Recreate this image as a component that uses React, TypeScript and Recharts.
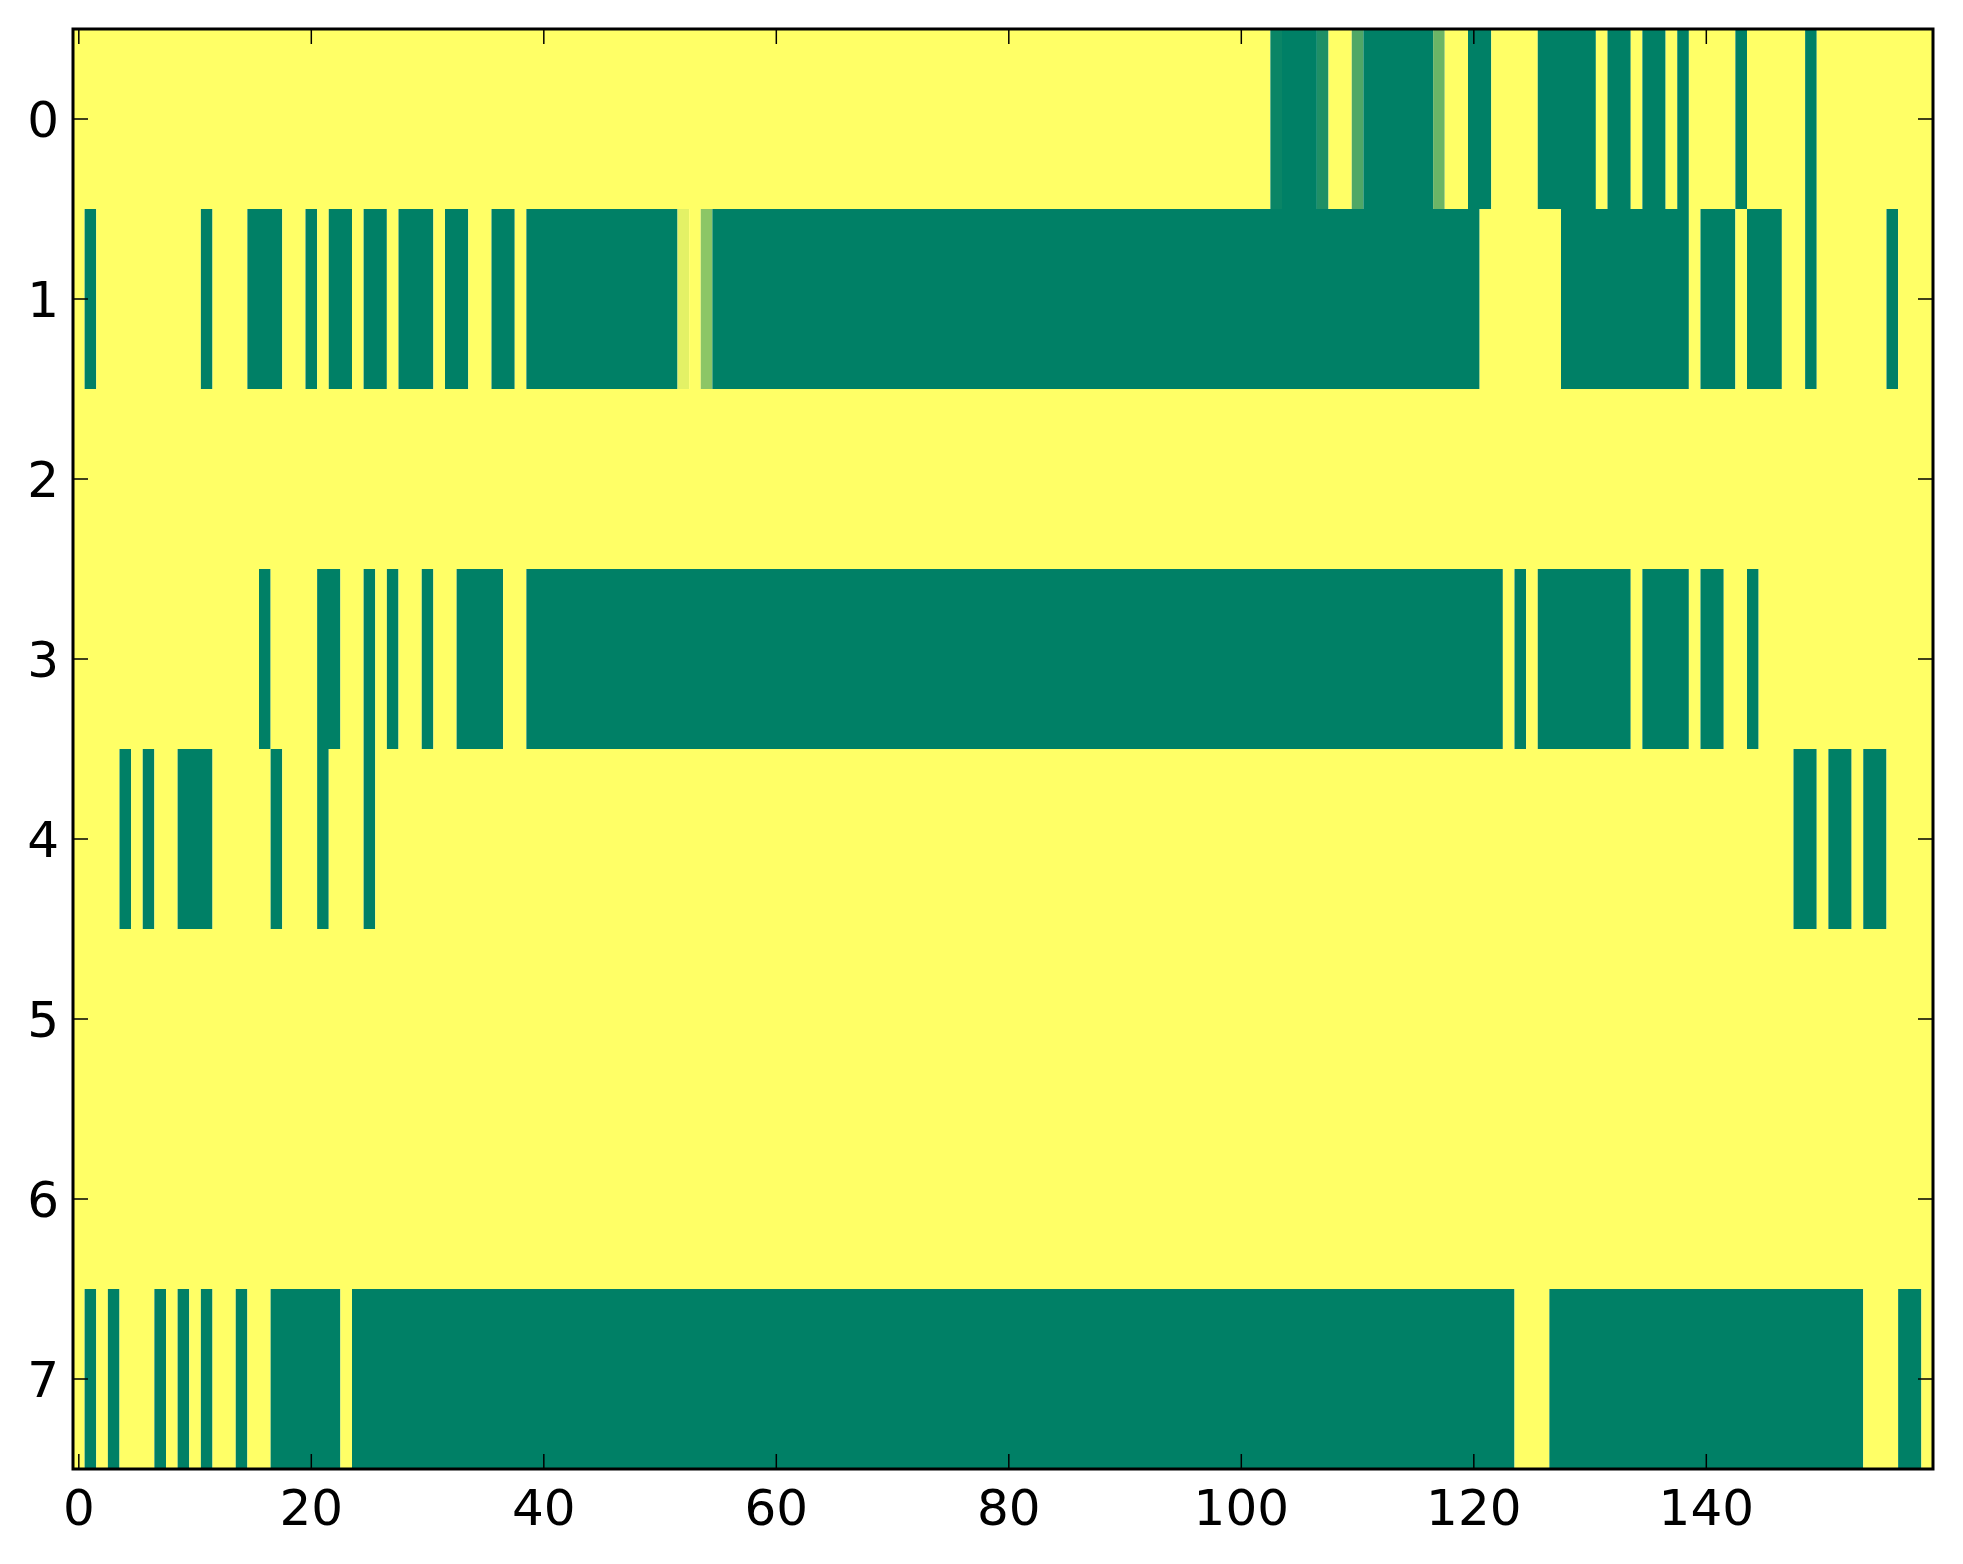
import React from "react";
import { ComposedChart, ReferenceArea, XAxis, YAxis } from "recharts";

// heatmap grid: 8 rows x 160 columns, values 0..1 (summer_r colour map)
const COLUMN_COUNT = 160;
const ROW_LABELS = [0, 1, 2, 3, 4, 5, 6, 7];
const X_TICKS = [0, 20, 40, 60, 80, 100, 120, 140];

// non-zero runs per row: [first column, last column, value]
const row0 = [
  [103, 103, 0.96], [104, 106, 1], [107, 107, 0.88], [110, 110, 0.69],
  [111, 116, 1], [117, 117, 0.58], [120, 121, 1], [126, 130, 1],
  [132, 133, 1], [135, 136, 1], [138, 138, 1], [143, 143, 1], [149, 149, 1],
];
const row1 = [
  [1, 1, 1], [11, 11, 1], [15, 17, 1], [20, 20, 1], [22, 23, 1], [25, 26, 1],
  [28, 30, 1], [32, 33, 1], [36, 37, 1], [39, 51, 1], [52, 52, 0.11],
  [54, 54, 0.45], [55, 120, 1], [128, 138, 1], [140, 142, 1], [144, 146, 1],
  [149, 149, 1], [156, 156, 1],
];
const row2: number[][] = [];
const row3 = [
  [16, 16, 1], [21, 22, 1], [25, 25, 1], [27, 27, 1], [30, 30, 1], [33, 36, 1],
  [39, 122, 1], [124, 124, 1], [126, 133, 1], [135, 138, 1], [140, 141, 1],
  [144, 144, 1],
];
const row4 = [
  [4, 4, 1], [6, 6, 1], [9, 11, 1], [17, 17, 1], [21, 21, 1], [25, 25, 1],
  [148, 149, 1], [151, 152, 1], [154, 155, 1],
];
const row5: number[][] = [];
const row6: number[][] = [];
const row7 = [
  [1, 1, 1], [3, 3, 1], [7, 7, 1], [9, 9, 1], [11, 11, 1], [14, 14, 1],
  [17, 22, 1], [24, 123, 1], [127, 153, 1], [157, 158, 1],
];

const rowRuns = [row0, row1, row2, row3, row4, row5, row6, row7];

const WIDTH = 1963;
const HEIGHT = 1564;
const PLOT_LEFT = 73;
const PLOT_TOP = 29;
const PLOT_RIGHT = 1933;
const PLOT_BOTTOM = 1469;
const TICK_LEN = 15;
const FONT = "DejaVu Sans";

function summerR(v: number) {
  const r = Math.round(255 * (1 - v));
  const g = Math.round(255 * (1 - 0.5 * v));
  return `rgb(${r},${g},102)`;
}

const grid = rowRuns.map((runs) => {
  const cells = new Array(COLUMN_COUNT).fill(0);
  runs.forEach(([a, b, v]) => {
    for (let c = a; c <= b; c++) cells[c] = v;
  });
  return cells;
});

// merge equal neighbours so each drawn rect covers a run of cells
const spans: { row: number; x1: number; x2: number; value: number }[] = [];
grid.forEach((cells, row) => {
  let start = 0;
  for (let c = 1; c <= COLUMN_COUNT; c++) {
    if (c === COLUMN_COUNT || cells[c] !== cells[start]) {
      spans.push({ row, x1: start - 0.5, x2: c - 0.5, value: cells[start] });
      start = c;
    }
  }
});

const XTick = (props: any) => {
  const { x, payload } = props;
  return (
    <g>
      <line x1={x} x2={x} y1={PLOT_BOTTOM} y2={PLOT_BOTTOM - TICK_LEN} stroke="#000" strokeWidth={1.5} />
      <line x1={x} x2={x} y1={PLOT_TOP} y2={PLOT_TOP + TICK_LEN} stroke="#000" strokeWidth={1.5} />
      <text x={x} y={1525} textAnchor="middle" fontSize={50} fontFamily={FONT} fill="#000">
        {payload.value}
      </text>
    </g>
  );
};

const YTick = (props: any) => {
  const { y, payload } = props;
  return (
    <g>
      <line x1={PLOT_LEFT} x2={PLOT_LEFT + TICK_LEN} y1={y} y2={y} stroke="#000" strokeWidth={1.5} />
      <line x1={PLOT_RIGHT} x2={PLOT_RIGHT - TICK_LEN} y1={y} y2={y} stroke="#000" strokeWidth={1.5} />
      <text x={PLOT_LEFT - 14} y={y + 18} textAnchor="end" fontSize={50} fontFamily={FONT} fill="#000">
        {payload.value}
      </text>
    </g>
  );
};

export default function App() {
  return (
    <div style={{ position: "absolute", left: 0, top: 0, width: WIDTH, height: HEIGHT, background: "#fff" }}>
      <ComposedChart
        width={WIDTH}
        height={HEIGHT}
        margin={{ top: PLOT_TOP, right: WIDTH - PLOT_RIGHT, left: 0, bottom: 0 }}
      >
        {spans.map((s, i) => (
          <ReferenceArea
            key={i}
            x1={s.x1}
            x2={s.x2}
            y1={s.row - 0.5}
            y2={s.row + 0.5}
            fill={summerR(s.value)}
            fillOpacity={1}
            stroke="none"
            ifOverflow="visible"
          />
        ))}
        <ReferenceArea
          x1={-0.5}
          x2={COLUMN_COUNT - 0.5}
          y1={-0.5}
          y2={ROW_LABELS.length - 0.5}
          fill="none"
          fillOpacity={0}
          stroke="#000"
          strokeWidth={3}
          ifOverflow="visible"
        />
        <XAxis
          type="number"
          dataKey="x"
          domain={[-0.5, COLUMN_COUNT - 0.5]}
          allowDataOverflow
          ticks={X_TICKS}
          interval={0}
          height={HEIGHT - PLOT_BOTTOM}
          axisLine={false}
          tickLine={false}
          tick={<XTick />}
        />
        <YAxis
          type="number"
          dataKey="y"
          reversed
          domain={[-0.5, ROW_LABELS.length - 0.5]}
          allowDataOverflow
          ticks={ROW_LABELS}
          interval={0}
          width={PLOT_LEFT}
          axisLine={false}
          tickLine={false}
          tick={<YTick />}
        />
      </ComposedChart>
    </div>
  );
}
